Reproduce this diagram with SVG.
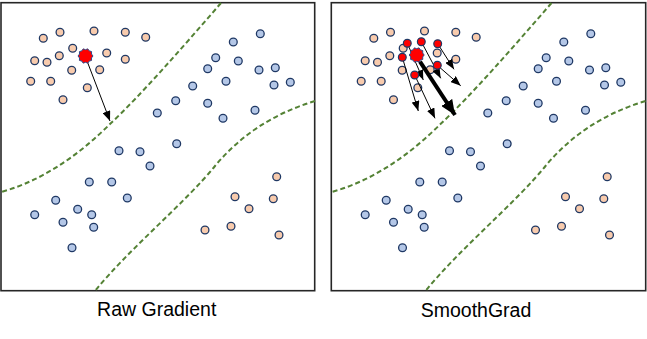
<svg xmlns="http://www.w3.org/2000/svg" xmlns:xlink="http://www.w3.org/1999/xlink" width="647" height="339" viewBox="0 0 647 339">
<style>
.frame{fill:#fff;stroke:#262626;stroke-width:1.6}
.o{fill:#f8cbad;stroke:#1f3864;stroke-width:1.3}
.b{fill:#b4c7e7;stroke:#1f3864;stroke-width:1.3}
.r{fill:#ff0000;stroke:#1f3864;stroke-width:1.2}
.bd{fill:none;stroke:#548235;stroke-width:2;stroke-dasharray:5 3}
.thin{fill:none;stroke:#000;stroke-width:1}
.thick{fill:none;stroke:#000;stroke-width:4}
.lbl{font-family:"Liberation Sans",Arial,sans-serif;font-size:19.5px;fill:#000;text-anchor:middle}
circle{r:3.9px}
</style>
<defs>
<marker id="ah" markerUnits="userSpaceOnUse" markerWidth="10" markerHeight="8" refX="10" refY="4" orient="auto"><path d="M0,0 L10,4 L0,8 z" fill="#000"/></marker>
<marker id="ahb" markerUnits="userSpaceOnUse" markerWidth="15" markerHeight="13" refX="15" refY="6.5" orient="auto"><path d="M0,0 L15,6.5 L0,13 z" fill="#000"/></marker>
<polygon id="star" points="7.5,0 6,1.95 6.07,4.41 3.71,5.1 2.32,7.13 0,6.3 -2.32,7.13 -3.71,5.1 -6.07,4.41 -6,1.95 -7.5,0 -6,-1.95 -6.07,-4.41 -3.71,-5.1 -2.32,-7.13 0,-6.3 2.32,-7.13 3.71,-5.1 6.07,-4.41 6,-1.95" fill="#ff0000" stroke="#2f4a8a" stroke-width="1" stroke-linejoin="round"/>
<g id="plot">
<path class="bd" d="M221,3 C182,48 140,96 110,124 C82,152 45,180 1,192"/>
<path class="bd" d="M315,101 C272,114 240,136 215,166 C186,202 128,250 95,291"/>
<g>
<circle class="o" cx="43.3" cy="38.3" r="3.9"/><circle class="o" cx="60" cy="32.3" r="3.9"/><circle class="o" cx="94" cy="31" r="3.9"/><circle class="o" cx="125.3" cy="32.3" r="3.9"/><circle class="o" cx="145.7" cy="37.3" r="3.9"/><circle class="o" cx="72.7" cy="48.3" r="3.9"/><circle class="o" cx="59.3" cy="55.7" r="3.9"/><circle class="o" cx="106.7" cy="53" r="3.9"/><circle class="o" cx="34.7" cy="60.7" r="3.9"/><circle class="o" cx="47" cy="62.3" r="3.9"/><circle class="o" cx="125.3" cy="59.3" r="3.9"/><circle class="o" cx="71.7" cy="70.3" r="3.9"/><circle class="o" cx="99.7" cy="69.7" r="3.9"/><circle class="o" cx="30.7" cy="81.3" r="3.9"/><circle class="o" cx="50.7" cy="81.3" r="3.9"/><circle class="o" cx="87.3" cy="87.7" r="3.9"/><circle class="o" cx="63" cy="99.7" r="3.9"/>
</g>
<g>
<circle class="b" cx="260.3" cy="33.7" r="3.9"/><circle class="b" cx="233.3" cy="42" r="3.9"/><circle class="b" cx="215.7" cy="57.7" r="3.9"/><circle class="b" cx="238.3" cy="61" r="3.9"/><circle class="b" cx="207.7" cy="68.7" r="3.9"/><circle class="b" cx="259" cy="70" r="3.9"/><circle class="b" cx="275.3" cy="67.7" r="3.9"/><circle class="b" cx="226" cy="81.3" r="3.9"/><circle class="b" cx="192.7" cy="86" r="3.9"/><circle class="b" cx="274" cy="85" r="3.9"/><circle class="b" cx="290.3" cy="82.3" r="3.9"/><circle class="b" cx="175.7" cy="100.7" r="3.9"/><circle class="b" cx="207.7" cy="103.3" r="3.9"/><circle class="b" cx="157.3" cy="113" r="3.9"/><circle class="b" cx="223" cy="118.3" r="3.9"/><circle class="b" cx="255" cy="110.3" r="3.9"/><circle class="b" cx="176.7" cy="143.7" r="3.9"/><circle class="b" cx="119" cy="150.7" r="3.9"/><circle class="b" cx="140" cy="151.7" r="3.9"/><circle class="b" cx="150" cy="166" r="3.9"/><circle class="b" cx="89.3" cy="182" r="3.9"/><circle class="b" cx="111.7" cy="182" r="3.9"/><circle class="b" cx="127.3" cy="198" r="3.9"/><circle class="b" cx="55.7" cy="200.3" r="3.9"/><circle class="b" cx="34.7" cy="214.7" r="3.9"/><circle class="b" cx="77.7" cy="209.3" r="3.9"/><circle class="b" cx="91.7" cy="214.7" r="3.9"/><circle class="b" cx="63" cy="222.3" r="3.9"/><circle class="b" cx="93.7" cy="227.3" r="3.9"/><circle class="b" cx="72" cy="247.7" r="3.9"/>
</g>
<g>
<circle class="o" cx="276.7" cy="176.7" r="3.9"/><circle class="o" cx="235" cy="196.7" r="3.9"/><circle class="o" cx="273.3" cy="198.7" r="3.9"/><circle class="o" cx="249" cy="208.7" r="3.9"/><circle class="o" cx="205" cy="230" r="3.9"/><circle class="o" cx="231" cy="226.3" r="3.9"/><circle class="o" cx="279" cy="235" r="3.9"/>
</g>
</g>
</defs>

<g id="panel-raw">
<rect class="frame" x="1" y="2.7" width="313.7" height="288"/>
<use xlink:href="#plot" href="#plot"/>
<g id="raw-arrow" class="connectors">
<path class="thin" d="M87.3,61.7 L110,121" marker-end="url(#ah)"/>
</g>
<use xlink:href="#star" href="#star" transform="translate(85.5,56)"/>
<text class="lbl" x="156.7" y="316">Raw Gradient</text>
</g>

<g id="panel-smooth">
<rect class="frame" x="331.3" y="2.7" width="314.4" height="288"/>
<use xlink:href="#plot" href="#plot" transform="translate(330.5,0)"/>
<g id="smooth-arrows" class="connectors">
<path class="thin" d="M437.7,43.7 L454,69.3" marker-end="url(#ah)"/>
<path class="thin" d="M437.3,65.3 L460.7,85.7" marker-end="url(#ah)"/>
<path class="thin" d="M421.3,41.7 L440.7,78.3" marker-end="url(#ah)"/>
<path class="thin" d="M407.3,43.3 L423.3,80" marker-end="url(#ah)"/>
<path class="thin" d="M402.3,57.3 L418.3,111" marker-end="url(#ah)"/>
<path class="thin" d="M414.7,75 L435,118.3" marker-end="url(#ah)"/>
<path class="thick" d="M420,61.7 L455,115" marker-end="url(#ahb)"/>
</g>
<g id="noisy-samples">
<circle class="r" cx="407.3" cy="43.3" r="4"/><circle class="r" cx="421.3" cy="41.7" r="4"/><circle class="r" cx="437.7" cy="43.7" r="4"/><circle class="r" cx="402.3" cy="57.3" r="4"/><circle class="r" cx="437.3" cy="65.3" r="4"/><circle class="r" cx="414.7" cy="75" r="4"/>
</g>
<use xlink:href="#star" href="#star" transform="translate(416.7,55)"/>
<text class="lbl" x="476" y="317">SmoothGrad</text>
</g>
</svg>
